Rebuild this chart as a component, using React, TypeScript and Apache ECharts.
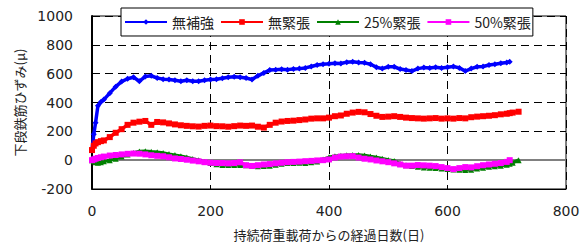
import React, { useEffect, useRef } from "react";
import * as echarts from "echarts";

const days = [
  0, 3, 6, 10, 15, 20,
  30, 40, 50, 60, 70, 80, 90, 100, 110,
  120, 130, 140, 150, 160, 170, 180, 190, 200, 210,
  220, 230, 240, 250, 260, 270, 280, 290, 300, 310,
  320, 330, 340, 350, 360, 370, 380, 390, 400, 410,
  420, 430, 440, 450, 460, 470, 480, 490, 500, 510,
  520, 530, 540, 550, 560, 570, 580, 590, 600, 610,
  620, 630, 640, 650, 660, 670, 680, 690, 700,
  705, 710, 720,
];

const noReinforce = [
  70, 180, 260, 377, 404, 420,
  465, 510, 545, 565, 575, 548, 580, 585, 570,
  562, 560, 555, 548, 555, 548, 548, 555, 560, 562,
  568, 575, 578, 575, 570, 560, 585, 605, 625, 628,
  630, 628, 632, 635, 640, 650, 660, 665, 668, 672,
  670, 680, 683, 678, 675, 665, 645, 635, 648, 648,
  632, 625, 618, 635, 642, 640, 645, 640, 645, 650,
  640, 618, 635, 648, 650, 660, 665, 672, 678,
  682, null, null,
];

const noTension = [
  70, 100, 116, 125, 132, 137,
  160, 190, 215, 245, 260, 267, 272, 245, 265,
  262, 255, 248, 242, 238, 235, 233, 238, 240, 236,
  235, 232, 236, 240, 238, 240, 232, 226, 245, 260,
  268, 272, 274, 278, 282, 288, 290, 290, 295, 305,
  310, 322, 330, 335, 332, 320, 308, 300, 302, 305,
  300, 295, 292, 290, 288, 290, 292, 288, 290, 288,
  292, 290, 298, 302, 305, 308, 312, 318, 322,
  326, 330, 336,
];

const tension25 = [
  0, -8, -14, -18, -14, -8,
  0, 10, 25, 40, 50, 60, 62, 58, 55,
  50, 42, 35, 28, 18, 8, 0, -12, -20, -28,
  -34, -34, -34, -34, -35, -40, -42, -40, -38, -32,
  -25, -20, -20, -18, -20, -15, -10, 5, 20, 28,
  30, 34, 35, 35, 33, 25, 18, 10, 2, -5,
  -25, -35, -40, -45, -50, -52, -55, -58, -62, -65,
  -66, -68, -66, -58, -52, -46, -42, -38, -32,
  -25, -18, 0,
];

const tension50 = [
  0, 5, 10, 15, 20, 25,
  32, 36, 40, 44, 46, 45, 40, 34, 30,
  27, 20, 12, 8, 3, -3, -8, -14, -18, -20,
  -20, -22, -20, -15, -35, -40, -35, -30, -27, -22,
  -18, -14, -12, -10, -7, -5, -2, 0, 5, 18,
  25, 27, 28, 18, 10, 5, -2, -8, -14, -22,
  -30, -38, -38, -34, -36, -38, -41, -48, -55, -62,
  -55, -48, -50, -42, -35, -30, -25, -20, -12,
  0, null, null,
];

const seriesNames = ["無補強", "無緊張", "25%緊張", "50%緊張"];
const seriesColors = ["#0000ff", "#ff0000", "#008000", "#ff00ff"];
const seriesSymbols = ["diamond", "rect", "triangle", "rect"];
const seriesValues = [noReinforce, noTension, tension25, tension50];

const xTitle = "持続荷重載荷からの経過日数(日)";
const yTitle = "下段鉄筋ひずみ(μ)";

export default function App() {
  const ref = useRef<HTMLDivElement>(null);

  useEffect(() => {
    if (!ref.current) return;
    const chart = echarts.init(ref.current, null, { renderer: "svg" });
    const latin = "DejaVu Sans";
    const cjk = "Noto Sans CJK JP";

    const series: any[] = seriesValues.map((vals, i) => ({
      name: seriesNames[i],
      type: "line",
      data: days.map((d, j) => [d, vals[j]]),
      connectNulls: false,
      showAllSymbol: true,
      symbol: seriesSymbols[i],
      symbolSize: 6,
      color: seriesColors[i],
      lineStyle: { width: 3.5, color: seriesColors[i] },
      itemStyle: { color: seriesColors[i] },
      z: 3 + i,
    }));

    series[0].markLine = {
      silent: true,
      symbol: "none",
      label: { show: false },
      lineStyle: { color: "#808080", width: 2, type: "solid" },
      data: [{ yAxis: 0 }],
      z: 1,
    };

    chart.setOption({
      animation: false,
      backgroundColor: "#ffffff",
      grid: {
        left: 92,
        right: 19,
        top: 16,
        bottom: 55,
        show: true,
        borderColor: "#000",
        borderWidth: 1,
        backgroundColor: "transparent",
      },
      legend: {
        data: seriesNames,
        left: 121,
        top: 8,
        itemWidth: 42,
        itemHeight: 7,
        itemGap: 6,
        padding: [7, 2, 7, 3],
        backgroundColor: "#fff",
        borderColor: "#000",
        borderWidth: 1,
        borderRadius: 0,
        textStyle: { fontFamily: cjk, fontSize: 14, color: "#222" },
        z: 10,
      },
      xAxis: {
        type: "value",
        min: 0,
        max: 800,
        interval: 200,
        name: xTitle,
        nameLocation: "middle",
        nameGap: 39,
        nameTextStyle: { fontFamily: cjk, fontSize: 13, color: "#222" },
        axisLine: { show: true, onZero: false, lineStyle: { color: "#000", width: 1 } },
        axisTick: { show: false },
        axisLabel: { margin: 15, fontFamily: latin, fontSize: 14, color: "#222", formatter: (v: number) => String(v) },
        splitLine: { show: true, lineStyle: { color: "#000", width: 1, type: [8, 5] } },
      },
      yAxis: {
        type: "value",
        min: -200,
        max: 1000,
        interval: 200,
        name: yTitle,
        nameLocation: "middle",
        nameGap: 62,
        nameTextStyle: { fontFamily: cjk, fontSize: 13, color: "#222" },
        axisLine: { show: true, lineStyle: { color: "#000", width: 2 } },
        axisTick: { show: false },
        axisLabel: { margin: 19, fontFamily: latin, fontSize: 14, color: "#222", formatter: (v: number) => String(v) },
        splitLine: { show: true, lineStyle: { color: "#000", width: 1, type: [8, 5] } },
      },
      series,
    });

    return () => chart.dispose();
  }, []);

  return (
    <div
      ref={ref}
      style={{ position: "fixed", left: 0, top: 0, width: 585, height: 246, background: "#fff" }}
    />
  );
}
